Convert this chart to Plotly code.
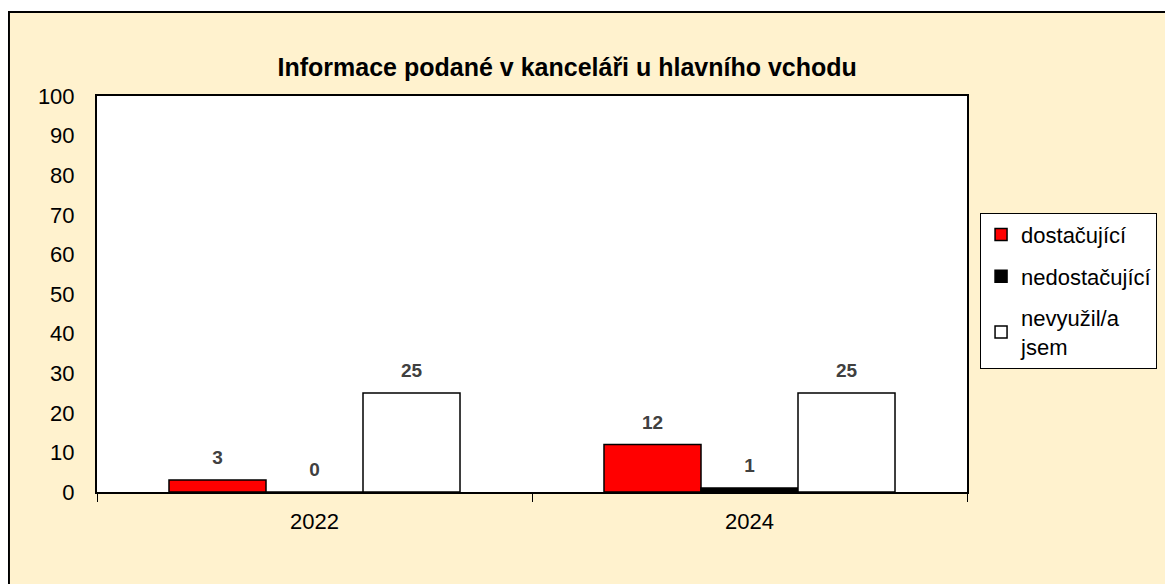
import plotly.graph_objects as go

years = ['2022', '2024']
series_names = ['dostačující', 'nedostačující', 'nevyužil/a<br>jsem']
dostacujici = [3, 12]
nedostacujici = [0, 1]
nevyuzil = [25, 25]
y_ticks = list(range(0, 101, 10))

bar_colors = ['#FF0000', '#000000', '#FFFFFF']
cream = 'rgb(255,242,206)'
label_color = '#404040'

values = [dostacujici, nedostacujici, nevyuzil]

fig = go.Figure()

for i, (name, vals) in enumerate(zip(series_names, values)):
    fig.add_trace(go.Bar(
        x=years, y=vals, name=name,
        marker_color=bar_colors[i], marker_line_color='black', marker_line_width=1.5,
        offsetgroup=str(i), legendgroup=str(i),
    ))

# popisky nad sloupci
for i, vals in enumerate(values):
    fig.add_trace(go.Scatter(
        x=years, y=vals, mode='markers+text', text=[str(v) for v in vals],
        textposition='top center',
        textfont=dict(family='Arial', size=19, color=label_color, weight='bold'),
        marker=dict(size=16, opacity=0),
        offsetgroup=str(i), showlegend=False, hoverinfo='skip', cliponaxis=False,
    ))

fig.update_layout(
    width=1165, height=576,
    margin=dict(l=89, r=206, t=88, b=92),
    paper_bgcolor='white',
    plot_bgcolor='white',
    barmode='group', bargap=0.331, bargroupgap=0,
    scattermode='group', scattergap=0.331,
    font=dict(family='Arial', size=22, color='black'),
    title=dict(text='<b>Informace podané v kanceláři u hlavního vchodu</b>',
               x=0.48, xanchor='center', y=0.898, yanchor='middle',
               font=dict(family='Arial', size=25, color='black')),
    legend=dict(x=1.015, xanchor='left', y=0.705, yanchor='top',
                bgcolor='white', bordercolor='black', borderwidth=1,
                font=dict(family='Arial', size=22, color='black'),
                tracegroupgap=10, itemwidth=30),
    showlegend=True,
)

fig.update_xaxes(showline=True, linecolor='black', linewidth=2, mirror=True,
                 ticks='outside', tickson='boundaries', ticklen=8, tickcolor='black',
                 showgrid=False, tickfont=dict(size=22), ticklabelstandoff=9)
fig.update_yaxes(range=[0, 100], tickvals=y_ticks, showline=True, linecolor='black',
                 linewidth=2, mirror=True, showgrid=False, zeroline=False,
                 ticks='', tickfont=dict(size=22), ticklabelstandoff=16)

# krémové pozadí s okrajem, bílá plocha grafu
fig.add_shape(type='rect', xref='paper', yref='paper', x0=-0.1012, x1=1.5, y0=-0.5, y1=1.2121,
              fillcolor=cream, line=dict(color='black', width=2), layer='below')
fig.add_shape(type='rect', xref='paper', yref='paper', x0=0, x1=1, y0=0, y1=1,
              fillcolor='white', line=dict(width=0), layer='below')

fig.write_html('out.html')
